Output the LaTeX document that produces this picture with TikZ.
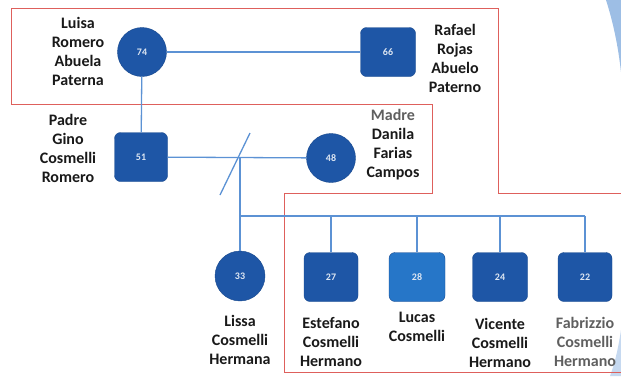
\documentclass[tikz,border=0pt]{standalone}
\usepackage{fontspec}
\setmainfont{Carlito}
\usetikzlibrary{positioning}

\definecolor{azulnodo}{RGB}{30,86,166}
\definecolor{azulclaro}{RGB}{38,118,200}
\definecolor{azullinea}{RGB}{92,146,212}
\definecolor{rojomarco}{RGB}{222,96,92}
\definecolor{grisnombre}{RGB}{95,95,95}

\tikzset{
  mujer/.style={circle, fill=azulnodo, draw=azulnodo!85!black, minimum size=49pt,
    inner sep=0pt, text=white!85!azulnodo, font=\bfseries\fontsize{10}{10}\selectfont},
  hombre/.style={rectangle, rounded corners=6pt, fill=azulnodo, draw=azulnodo!85!black,
    minimum width=53pt, minimum height=49pt, inner sep=0pt,
    text=white!85!azulnodo, font=\bfseries\fontsize{10}{10}\selectfont},
  nombre/.style={align=center, text=black!90, inner sep=0pt,
    font=\bfseries\fontsize{16}{19}\selectfont},
  enlace/.style={draw=azullinea, line width=1.3pt},
  marco/.style={draw=rojomarco, line width=0.9pt}
}

\begin{document}
\begin{tikzpicture}[x=1pt, y=-1pt]
  \useasboundingbox (0,0) rectangle (621,376);

  % page decoration
  \fill[azullinea!60] (606,0) .. controls (613,22) and (618,45) .. (621,72) -- (621,0) -- cycle;
  \fill[azullinea!35] (621,330) .. controls (618,350) and (614,366) .. (610,376) -- (621,376) -- cycle;

  % red frame
  \draw[marco] (621,193) -- (498,193) -- (498,8) -- (11,8) -- (11,104) -- (432,104)
    -- (432,193) -- (284,193) -- (284,372) -- (621,372);

  % Nodes
  \node[mujer] at (142,52) (n74) {74};
  \node[hombre, minimum width=55pt] at (388,52) (n66) {66};
  \node[hombre] at (141,157) (n51) {51};
  \node[mujer] at (331,158) (n48) {48};
  \node[mujer, minimum size=50pt] at (240,276) (n33) {33};
  \node[hombre, minimum width=54pt] at (331,277) (n27) {27};
  \node[hombre, fill=azulclaro, minimum width=56pt] at (417,277) (n28) {28};
  \node[hombre, minimum width=55pt] at (500,277) (n24) {24};
  \node[hombre, minimum width=54pt] at (585,277) (n22) {22};

  % Names
  \node[nombre] at (78,51) (luisa) {Luisa\\Romero\\Abuela\\Paterna};
  \node[nombre] at (455,58) (rafael) {Rafael\\Rojas\\Abuelo\\Paterno};
  \node[nombre] at (68,148) (gino) {Padre\\Gino\\Cosmelli\\Romero};
  \node[nombre] at (393,145) (danila) {\textcolor{grisnombre}{Madre}\\Danila\\Farias\\Campos};
  \node[nombre] at (240,340) (lissa) {Lissa\\Cosmelli\\Hermana};
  \node[nombre] at (331,342) (estefano) {Estefano\\Cosmelli\\Hermano};
  \node[nombre] at (417,327) (lucas) {Lucas\\Cosmelli};
  \node[nombre] at (500,343) (vicente) {Vicente\\Cosmelli\\Hermano};
  \node[nombre, text=grisnombre] at (585,342) (fabrizzio) {Fabrizzio\\Cosmelli\\Hermano};

  % Arrows
  \coordinate (union) at (240,158);
  \coordinate (corteA) at (220,195);
  \coordinate (corteB) at (250,133);
  \coordinate (hijos) at (240,216);

  \draw[enlace] (n74) -- (n66);
  \draw[enlace] (n74) -- (n51);
  \draw[enlace] (n51) -- (n48);
  \draw[enlace] (corteA) -- (corteB);
  \draw[enlace] (union) -- (n33);
  \draw[enlace] (hijos) -- (hijos -| n22);
  \foreach \h in {n27,n28,n24,n22}
    \draw[enlace] (hijos -| \h) -- (\h);

\end{tikzpicture}
\end{document}
